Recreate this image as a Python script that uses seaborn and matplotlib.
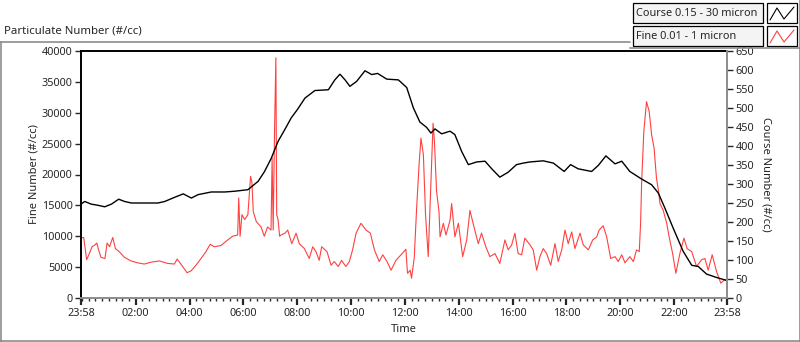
import pandas as pd
import seaborn as sns
import matplotlib.pyplot as plt
import matplotlib.dates as mdates
from matplotlib.patches import Rectangle
from matplotlib.lines import Line2D

# readings, time in hours after 23:58
course_hours = [0.00, 0.14, 0.38, 0.63, 0.88, 1.13, 1.40, 1.62, 1.87, 2.36, 2.86, 3.11, 3.48,
                3.80, 4.10, 4.35, 4.84, 5.34, 5.71, 6.20, 6.58, 6.82, 7.07, 7.32, 7.57, 7.81,
                8.04, 8.32, 8.69, 9.19, 9.43, 9.62, 9.81, 9.99, 10.24, 10.55, 10.80, 11.02,
                11.36, 11.79, 12.10, 12.35, 12.59, 12.84, 13.00, 13.15, 13.40, 13.71, 13.89,
                14.14, 14.39, 14.70, 15.01, 15.26, 15.56, 15.87, 16.18, 16.43, 16.68, 17.17,
                17.55, 17.95, 18.19, 18.47, 18.97, 19.22, 19.50, 19.84, 20.09, 20.39, 20.83,
                21.20, 21.45, 21.69, 22.00, 22.37, 22.69, 22.93, 23.24, 23.61, 24.00]
course_values = [247, 254, 247, 244, 240, 247, 260, 254, 250, 250, 250, 254, 265,
                 274, 263, 272, 279, 279, 281, 285, 307, 333, 368, 412, 443, 474,
                 496, 526, 546, 548, 574, 589, 574, 557, 570, 598, 588, 591,
                 576, 574, 554, 500, 463, 449, 434, 445, 432, 439, 430,
                 386, 351, 358, 360, 340, 318, 331, 351, 355, 358, 361,
                 355, 333, 351, 340, 333, 349, 374, 353, 360, 333, 313,
                 298, 276, 237, 184, 123, 86, 83, 63, 54, 46]

fine_hours = [0.00, 0.10, 0.21, 0.31, 0.41, 0.52, 0.59, 0.64, 0.74, 0.89, 0.97, 1.06, 1.18,
              1.28, 1.42, 1.61, 1.86, 2.10, 2.35, 2.60, 2.91, 3.22, 3.47, 3.57, 3.71, 3.94,
              4.09, 4.27, 4.46, 4.64, 4.80, 4.95, 5.20, 5.45, 5.63, 5.82, 5.86, 5.91, 5.98,
              6.08, 6.20, 6.30, 6.35, 6.40, 6.51, 6.69, 6.81, 6.93, 7.06, 7.10, 7.14, 7.19,
              7.24, 7.27, 7.32, 7.38, 7.43, 7.58, 7.68, 7.83, 7.99, 8.11, 8.30, 8.48, 8.61,
              8.73, 8.85, 8.94, 9.14, 9.29, 9.41, 9.56, 9.68, 9.84, 9.97, 10.09, 10.22, 10.40,
              10.59, 10.75, 10.90, 11.08, 11.21, 11.37, 11.52, 11.70, 11.89, 12.07, 12.13,
              12.23, 12.28, 12.38, 12.47, 12.56, 12.63, 12.72, 12.80, 12.90, 13.00, 13.08,
              13.13, 13.21, 13.30, 13.34, 13.46, 13.56, 13.71, 13.77, 13.89, 14.02, 14.18,
              14.33, 14.45, 14.60, 14.76, 14.88, 15.04, 15.19, 15.38, 15.56, 15.75, 15.87,
              16.00, 16.12, 16.24, 16.37, 16.49, 16.68, 16.80, 16.93, 17.05, 17.17, 17.30,
              17.45, 17.61, 17.73, 17.86, 17.98, 18.10, 18.23, 18.35, 18.54, 18.66, 18.85,
              19.01, 19.16, 19.25, 19.40, 19.53, 19.68, 19.84, 19.96, 20.09, 20.21, 20.39,
              20.52, 20.64, 20.74, 20.79, 20.83, 20.91, 21.01, 21.11, 21.20, 21.29, 21.38,
              21.45, 21.51, 21.63, 21.76, 21.85, 21.98, 22.10, 22.25, 22.40, 22.52, 22.69,
              22.87, 23.06, 23.18, 23.30, 23.45, 23.61, 23.77, 23.92, 24.00]
fine_values = [9700, 9800, 6200, 7200, 8300, 8600, 8900, 8000, 6600, 6400, 8900, 8300, 9800,
               8000, 7500, 6600, 6000, 5700, 5500, 5800, 6000, 5600, 5500, 6300, 5500, 4100,
               4400, 5300, 6400, 7500, 8700, 8300, 8500, 9400, 10000, 10200, 16200, 10000, 13500,
               12700, 13500, 19700, 18700, 14000, 12400, 11500, 10000, 11500, 11000, 22700, 11000, 27000,
               38900, 13500, 12700, 10000, 10200, 10500, 11000, 8800, 10500, 8800, 8000, 6400, 8300,
               7500, 6100, 8300, 7500, 5300, 5900, 5100, 6100, 5100, 5900, 7800, 10500, 12100,
               11000, 10500, 7800, 5900, 7000, 5900, 4500, 6100, 7000, 7900, 4000,
               4500, 3200, 6500, 14600, 21600, 25900, 23200, 13500, 6700, 18900, 28300,
               25400, 17300, 14000, 9900, 12100, 10200, 12600, 15300, 9900, 12100, 6700,
               9400, 14200, 11500, 8800, 10500, 8300, 6700, 7200, 5600, 9400, 7800,
               8600, 10500, 7200, 7000, 9700, 8600, 7800, 4500, 6700, 8000, 7200,
               5300, 8800, 5900, 7800, 11000, 8800, 10700, 8000, 10500, 8600, 7800,
               9400, 9900, 11000, 11700, 9900, 6400, 6700, 5900, 7000, 5700, 6700,
               5900, 7800, 7500, 12100, 18900, 27000, 31800, 30200, 26400, 24300, 19400,
               17500, 15300, 14200, 12100, 9900, 7200, 4000, 7200, 9700, 8000, 7500,
               5100, 6200, 6400, 4500, 7000, 4300, 2400, 3000, 2700]

x_tick_hours = [2, 4, 6, 8, 10, 12, 14, 16, 18, 20, 22]

start = pd.Timestamp("2020-01-01 23:58")
end = start + pd.Timedelta(hours=24)
course = pd.DataFrame({"time": start + pd.to_timedelta(course_hours, unit="h"),
                       "value": course_values})
fine = pd.DataFrame({"time": start + pd.to_timedelta(fine_hours, unit="h"),
                     "value": fine_values})

sns.set_style("ticks")
plt.rcParams["font.family"] = ["Noto Sans", "DejaVu Sans"]
plt.rcParams["font.size"] = 8
plt.rcParams["xtick.labelsize"] = 7.8
plt.rcParams["ytick.labelsize"] = 7.8

fig = plt.figure(figsize=(8, 3.42), dpi=100)
ax = fig.add_axes([81 / 800, 44 / 342, 646 / 800, 247 / 342])
ax2 = ax.twinx()

red = "#ff4040"
sns.lineplot(data=fine, x="time", y="value", ax=ax, color=red, linewidth=0.8)
sns.lineplot(data=course, x="time", y="value", ax=ax2, color="black", linewidth=1.0)

ax.set_xlim(start, end)
ax.set_ylim(0, 40000)
ax2.set_ylim(0, 650)
ax.set_yticks(range(0, 40001, 5000))
ax2.set_yticks(range(0, 651, 50))

xt = [start] + [pd.Timestamp("2020-01-02") + pd.Timedelta(hours=h) for h in x_tick_hours] + [end]
ax.set_xticks(xt)
ax.xaxis.set_major_formatter(mdates.DateFormatter("%H:%M"))
ax.xaxis.set_minor_locator(mdates.MinuteLocator(byminute=[0, 15, 30, 45]))

ax.tick_params(axis="x", which="major", length=5, width=1.6, pad=2)
ax.tick_params(axis="x", which="minor", length=2, width=1)
ax.tick_params(axis="y", length=4, width=1, pad=2)
ax2.tick_params(axis="y", length=4, width=1, pad=2)

ax.set_xlabel("Time")
ax.set_ylabel("Fine Number (#/cc)")
ax2.set_ylabel("Course Number (#/cc)", rotation=270)
ax.yaxis.set_label_coords(-0.065, 0.5)
ax2.yaxis.set_label_coords(1.052, 0.5)
ax.xaxis.set_label_coords(0.5, -0.105)
ax2.yaxis.label.set_va("bottom")

for side in ["left", "top"]:
    ax.spines[side].set_color("black")
    ax.spines[side].set_linewidth(1.4)
ax.spines["bottom"].set_color("#8c8c8c")
ax.spines["bottom"].set_linewidth(1.4)
ax.spines["right"].set_visible(False)
for side in ["left", "top", "bottom"]:
    ax2.spines[side].set_visible(False)
ax2.spines["right"].set_color("#8c8c8c")
ax2.spines["right"].set_linewidth(1.4)


# panel frame, title and legend drawn in pixel coordinates from the top-left
def px(x, y):
    return x / 800, 1 - y / 342


gray = "#8c8c8c"
fig.add_artist(Line2D([0, 630 / 800], [1 - 42 / 342] * 2, color=gray, lw=1.2))
fig.add_artist(Line2D([0.5 / 800] * 2, [1 - 42 / 342, 0], color=gray, lw=1.2))
fig.add_artist(Line2D([0, 1], [0.6 / 342] * 2, color=gray, lw=1.2))
fig.add_artist(Line2D([799.5 / 800] * 2, [0, 1], color=gray, lw=1.2))
fig.add_artist(Line2D([630 / 800, 1], [1 - 48 / 342] * 2, color=gray, lw=1.2))
fig.text(*px(4, 31), "Particulate Number (#/cc)", ha="left", va="center", fontsize=8.2)

entries = [("Course 0.15 - 30 micron", "black", 3), ("Fine 0.01 - 1 micron", red, 26)]
for label, color, top in entries:
    x0, y0 = px(633, top + 20)
    fig.add_artist(Rectangle((x0, y0), 130 / 800, 20 / 342, transform=fig.transFigure,
                             facecolor="#f4f4f4", edgecolor="black", lw=0.9))
    fig.text(*px(636, top + 10.5), label, ha="left", va="center", fontsize=7.9)
    x1, y1 = px(767, top + 20)
    fig.add_artist(Rectangle((x1, y1), 30 / 800, 20 / 342, transform=fig.transFigure,
                             facecolor="white", edgecolor="black", lw=0.9))
    zx = [770, 777, 784, 794]
    zy = [top + 17, top + 5, top + 16, top + 4]
    fig.add_artist(Line2D([v / 800 for v in zx], [1 - v / 342 for v in zy], color=color, lw=0.8))

fig.savefig("out.png", dpi=100)
